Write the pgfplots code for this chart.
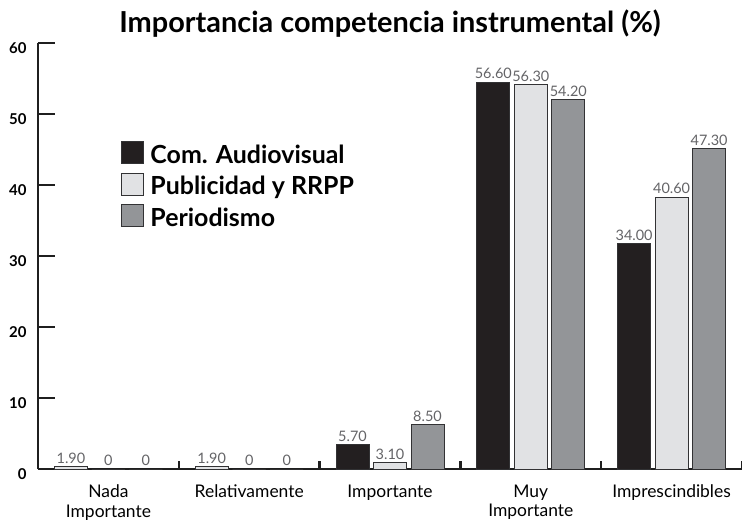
\documentclass[border=0pt]{standalone}
\usepackage{pgfplots}
\pgfplotsset{compat=1.18}
\usepackage{fontspec}
\setmainfont{Lato}
\definecolor{cA}{RGB}{35,31,32}
\definecolor{cB}{RGB}{225,226,228}
\definecolor{cC}{RGB}{147,149,152}
\definecolor{edge}{RGB}{50,50,52}
\definecolor{lab}{RGB}{100,100,103}
\begin{document}
\begin{tikzpicture}
\useasboundingbox (-38bp,-56bp) rectangle (704bp,469bp);
\begin{axis}[
  at={(0,0)}, anchor=south west,
  scale only axis, width=704bp, height=426bp,
  xmin=-0.5, xmax=4.5, ymin=0, ymax=60,
  axis lines=left,
  axis line style={-, line width=2.5bp, draw=black!88},
  ybar, bar width=33bp,
  ytick={0,10,...,60},
  tick align=inside,
  major tick length=17bp, minor tick length=8bp,
  tick style={line width=2.5bp, draw=black!88},
  xtick={0,...,4},
  xticklabels={{Nada\\Importante},Relativamente,Importante,{Muy\\Importante},Imprescindibles},
  minor xtick={0.5,1.5,2.5,3.5,4.5},
  major x tick style={draw=none},
  /pgf/number format/assume math mode=true,
  yticklabel style={font=\bfseries\fontsize{15}{15}\selectfont, yshift=-5bp, xshift=-8bp},
  xticklabel style={font=\fontsize{17.5}{20}\selectfont, align=center, yshift=-12bp},
  title={Importancia competencia instrumental (\%)},
  title style={font=\bfseries\fontsize{29}{32}\selectfont, yshift=-4bp},
  nodes near coords,
  point meta=explicit symbolic,
  every node near coord/.append style={font=\fontsize{14.5}{14.5}\selectfont, color=lab, inner sep=2.5bp},
  legend image code/.code={\draw[#1, line width=1bp] (0bp,-9bp) rectangle (22bp,13bp);},
  legend style={at={(0.114,0.775)}, anchor=north west, draw=none, fill=none,
    font=\bfseries\fontsize{25}{28}\selectfont, row sep=6bp,
    nodes={inner xsep=6bp}},
  legend cell align=left,
  clip=false,
]
\addplot[fill=cA, draw=edge, line width=1bp, bar shift=-37.5bp]
  coordinates {(2,3.5)[5.70] (3,54.5)[56.60] (4,31.8)[34.00]};
\addlegendentry{Com. Audiovisual}
\addplot[fill=cB, draw=edge, line width=1bp, bar shift=0bp]
  coordinates {(0,0)[0] (1,0)[0] (2,0.85)[3.10] (3,54.2)[56.30] (4,38.3)[40.60]};
\addlegendentry{Publicidad y RRPP}
\addplot[fill=cC, draw=edge, line width=1bp, bar shift=37.5bp]
  coordinates {(0,0)[0] (1,0)[0] (2,6.2)[8.50] (3,52.0)[54.20] (4,45.1)[47.30]};
\addlegendentry{Periodismo}
\addplot[fill=cB, draw=edge, line width=1bp, bar shift=-37.5bp, forget plot]
  coordinates {(0,0.4)[1.90] (1,0.4)[1.90]};
\end{axis}
\end{tikzpicture}
\end{document}
